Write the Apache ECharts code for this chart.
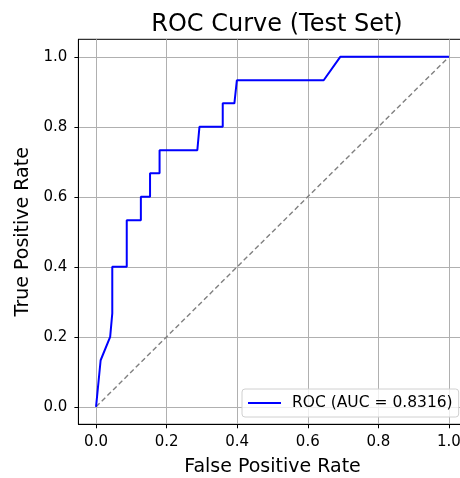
<!DOCTYPE html>
<html>
<head>
<meta charset="utf-8">
<script src="https://cdn.jsdelivr.net/npm/echarts@6/dist/echarts.min.js"></script>
<style>html,body{margin:0;padding:0;background:#fff;}#c{width:460px;height:478px;}</style>
</head>
<body>
<div id="c"></div>
<script>
const fpr = [0, 0.013, 0.04, 0.046, 0.046, 0.087, 0.087, 0.127, 0.127, 0.153, 0.153, 0.18, 0.18, 0.287, 0.293, 0.359, 0.359, 0.392, 0.399, 0.645, 0.692, 1.0];
const tpr = [0, 0.133, 0.2, 0.267, 0.4, 0.4, 0.533, 0.533, 0.6, 0.6, 0.667, 0.667, 0.733, 0.733, 0.8, 0.8, 0.867, 0.867, 0.933, 0.933, 1.0, 1.0];
const chanceX = [0, 1];
const chanceY = [0, 1];
const tickValues = [0, 0.2, 0.4, 0.6, 0.8, 1.0];
const titleText = 'ROC Curve (Test Set)';
const xLabel = 'False Positive Rate';
const yLabel = 'True Positive Rate';
const seriesName = 'ROC (AUC = 0.8316)';

const FONT = 'DejaVu Sans';
const chart = echarts.init(document.getElementById('c'), null, {renderer: 'canvas'});

function axisCommon(name, isX) {
  return {
    type: 'value', min: -0.05, max: 1.05,
    name: name, nameLocation: 'middle',
    nameGap: isX ? 33 : 43,
    nameTextStyle: {fontFamily: FONT, fontSize: 19, color: '#000'},
    axisLine: {show: true, onZero: false, lineStyle: {color: '#000', width: 1}},
    axisTick: {show: true, length: 4, inside: false, customValues: tickValues, lineStyle: {color: '#000', width: 1}},
    axisLabel: {show: true, customValues: tickValues, fontFamily: FONT, fontSize: 15, color: '#000', margin: isX ? 10 : 11,
      formatter: v => v.toFixed(1)},
    splitLine: {show: true, lineStyle: {color: '#b0b0b0', width: 1}},
  };
}

chart.setOption({
  animation: false,
  backgroundColor: '#fff',
  title: {text: titleText, left: 272, top: 8, textAlign: 'center',
    textStyle: {fontFamily: FONT, fontSize: 24, fontWeight: 'normal', color: '#000'}},
  grid: {left: 78.4, top: 39.3, width: 388.2, height: 385, containLabel: false, outerBoundsMode: 'none',
    show: true, borderColor: '#000', borderWidth: 1, backgroundColor: 'transparent'},
  xAxis: axisCommon(xLabel, true),
  yAxis: axisCommon(yLabel, false),
  legend: {
    left: 242, top: 389, orient: 'horizontal',
    data: [{name: seriesName, icon: 'rect'}],
    itemWidth: 33, itemHeight: 2, itemGap: 10,
    textStyle: {fontFamily: FONT, fontSize: 15.5, color: '#000', padding: [0, 0, 0, 6]},
    borderColor: '#d0d0d0', borderWidth: 1, borderRadius: 3,
    padding: [6, 6, 6, 6], backgroundColor: 'rgba(255,255,255,0.8)'
  },
  series: [
    {name: seriesName, type: 'line', data: fpr.map((x, i) => [x, tpr[i]]), showSymbol: false, symbol: 'none',
      lineStyle: {color: '#0000ff', width: 2}, itemStyle: {color: '#0000ff'}, z: 3},
    {name: 'chance', type: 'line', data: chanceX.map((x, i) => [x, chanceY[i]]), showSymbol: false, symbol: 'none',
      lineStyle: {color: '#808080', width: 1.4, type: [5, 3]}, z: 2}
  ]
});
</script>
</body>
</html>
